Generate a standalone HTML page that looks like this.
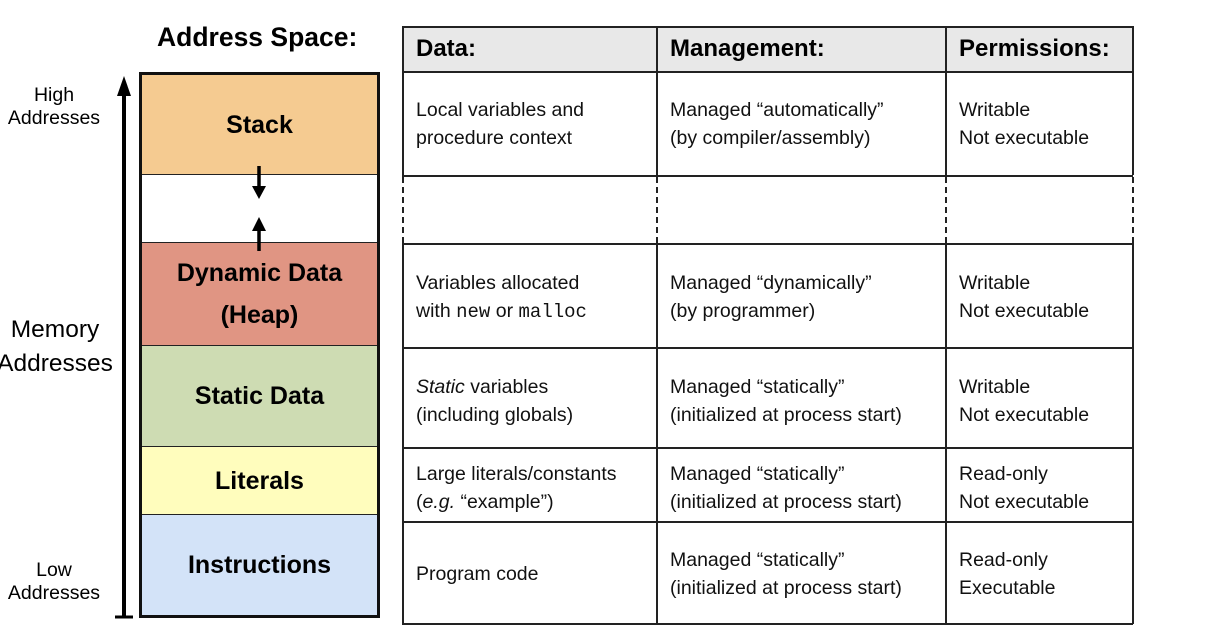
<!DOCTYPE html>
<html><head><meta charset="utf-8"><style>
body{margin:0;width:1208px;height:644px;background:#fff;position:relative;overflow:hidden;font-family:"Liberation Sans",sans-serif;}
.a{position:absolute;}
.seg{position:absolute;left:142px;width:235px;display:flex;align-items:center;justify-content:center;font-weight:bold;font-size:25px;text-align:center;line-height:42px;border-bottom:1.5px solid #222;box-sizing:border-box;}
.t{position:absolute;font-size:19.5px;line-height:28px;color:#111;}
.h{position:absolute;font-size:24px;font-weight:bold;top:35px;}
.hl{position:absolute;background:#222;height:1.5px;left:402px;width:731px;}
.vl{position:absolute;background:#222;width:1.5px;}
.dv{position:absolute;width:0;border-left:2px dashed #222;top:177px;height:66px;}
.m{font-family:"Liberation Mono",monospace;font-size:19px;}
</style></head><body>
<div class="a" style="left:157px;top:22px;font-size:26.5px;font-weight:bold;">Address Space:</div>
<div class="a" style="left:0;top:84px;width:108px;text-align:center;font-size:19.5px;line-height:23px;">High<br>Addresses</div>
<div class="a" style="left:-10px;top:313px;width:130px;text-align:center;font-size:24.5px;line-height:34px;">Memory<br>Addresses</div>
<div class="a" style="left:0;top:559px;width:108px;text-align:center;font-size:19.5px;line-height:23px;">Low<br>Addresses</div>
<svg class="a" style="left:0;top:0" width="400" height="644">
<line x1="124" y1="92" x2="124" y2="617" stroke="#000" stroke-width="4"/>
<polygon points="124,76 117,96 131,96" fill="#000"/>
<line x1="115" y1="617" x2="133" y2="617" stroke="#000" stroke-width="3"/>
</svg>
<div class="a" style="left:139px;top:72px;width:241px;height:546px;border:3px solid #111;box-sizing:border-box;"></div>
<div class="seg" style="top:75px;height:100px;background:#f5cb91;">Stack</div>
<div class="seg" style="top:175px;height:68px;background:#fff;"></div>
<div class="seg" style="top:243px;height:103px;background:#e09583;">Dynamic Data<br>(Heap)</div>
<div class="seg" style="top:346px;height:101px;background:#cedcb3;">Static Data</div>
<div class="seg" style="top:447px;height:68px;background:#fffdbd;">Literals</div>
<div class="seg" style="top:515px;height:100px;background:#d3e3f8;border:none;">Instructions</div>
<svg class="a" style="left:240px;top:160px" width="40" height="100">
<line x1="19" y1="6" x2="19" y2="26" stroke="#000" stroke-width="3.5"/>
<polygon points="19,39 12,26 26,26" fill="#000"/>
<line x1="19" y1="71" x2="19" y2="91" stroke="#000" stroke-width="3.5"/>
<polygon points="19,57 12,71 26,71" fill="#000"/>
</svg>
<div class="a" style="left:402px;top:26px;width:731px;height:45px;background:#e8e8e8;"></div>
<div class="hl" style="top:26px"></div><div class="hl" style="top:71px"></div>
<div class="hl" style="top:175px"></div><div class="hl" style="top:243px"></div>
<div class="hl" style="top:347px"></div><div class="hl" style="top:447px"></div>
<div class="hl" style="top:521px"></div><div class="hl" style="top:623px"></div>
<div class="vl" style="left:402px;top:26px;height:149px"></div><div class="vl" style="left:402px;top:243px;height:381px"></div>
<div class="vl" style="left:656px;top:26px;height:149px"></div><div class="vl" style="left:656px;top:243px;height:381px"></div>
<div class="vl" style="left:945px;top:26px;height:149px"></div><div class="vl" style="left:945px;top:243px;height:381px"></div>
<div class="vl" style="left:1132px;top:26px;height:149px"></div><div class="vl" style="left:1132px;top:243px;height:381px"></div>
<div class="dv" style="left:402px"></div><div class="dv" style="left:656px"></div><div class="dv" style="left:945px"></div><div class="dv" style="left:1132px"></div>
<div class="h" style="left:416px">Data:</div>
<div class="h" style="left:670px">Management:</div>
<div class="h" style="left:959px">Permissions:</div>
<div class="t" style="left:416px;top:96px">Local variables and<br>procedure context</div>
<div class="t" style="left:670px;top:96px">Managed “automatically”<br>(by compiler/assembly)</div>
<div class="t" style="left:959px;top:96px">Writable<br>Not executable</div>
<div class="t" style="left:416px;top:269px">Variables allocated<br>with <span class="m">new</span> or <span class="m">malloc</span></div>
<div class="t" style="left:670px;top:269px">Managed “dynamically”<br>(by programmer)</div>
<div class="t" style="left:959px;top:269px">Writable<br>Not executable</div>
<div class="t" style="left:416px;top:373px"><i>Static</i> variables<br>(including globals)</div>
<div class="t" style="left:670px;top:373px">Managed “statically”<br>(initialized at process start)</div>
<div class="t" style="left:959px;top:373px">Writable<br>Not executable</div>
<div class="t" style="left:416px;top:460px">Large literals/constants<br>(<i>e.g.</i> “example”)</div>
<div class="t" style="left:670px;top:460px">Managed “statically”<br>(initialized at process start)</div>
<div class="t" style="left:959px;top:460px">Read-only<br>Not executable</div>
<div class="t" style="left:416px;top:560px">Program code</div>
<div class="t" style="left:670px;top:546px">Managed “statically”<br>(initialized at process start)</div>
<div class="t" style="left:959px;top:546px">Read-only<br>Executable</div>
</body></html>
